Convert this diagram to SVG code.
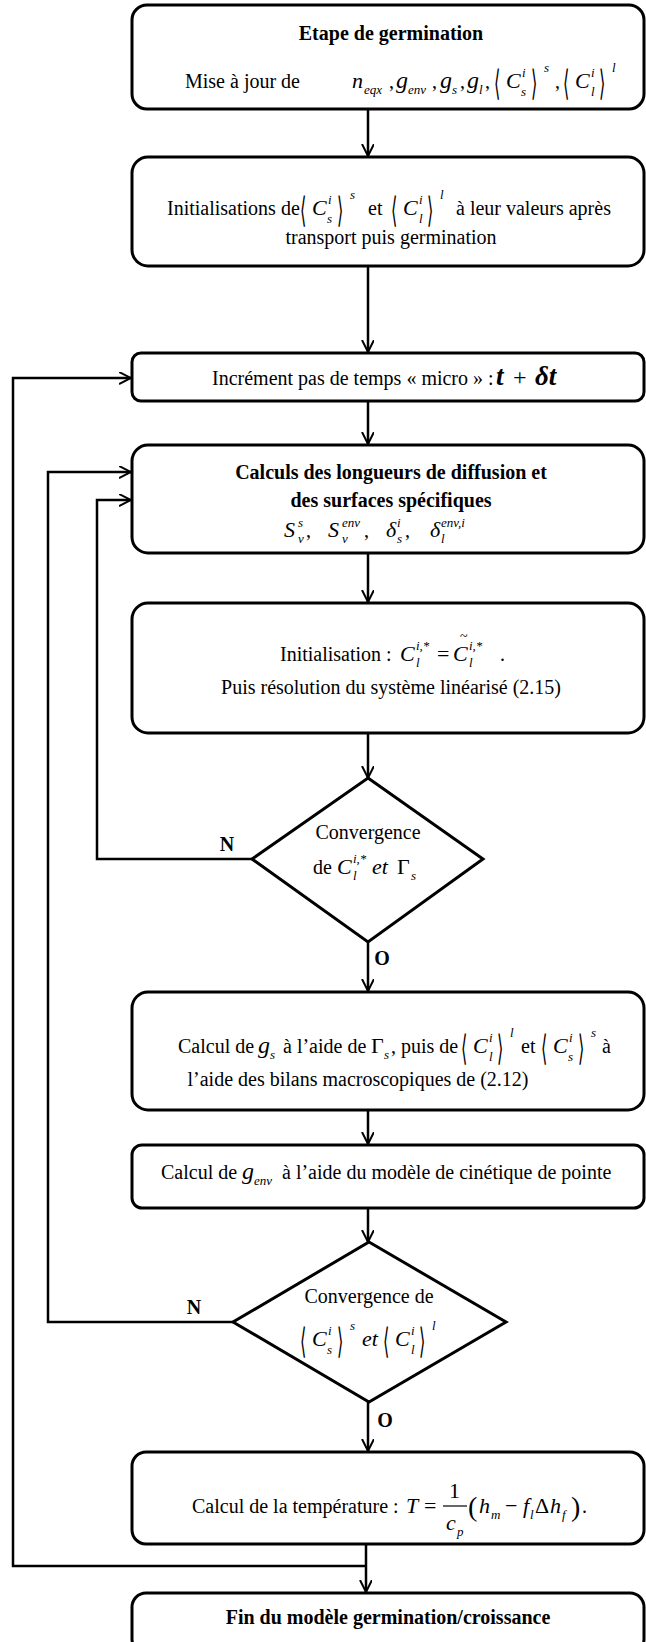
<svg xmlns="http://www.w3.org/2000/svg" width="646" height="1642" viewBox="0 0 646 1642">
<style>
.box{fill:#fff;stroke:#000;stroke-width:3}
.c{fill:none;stroke:#000;stroke-width:2.5}
.t{font-family:"Liberation Serif",serif;font-size:20px;fill:#000}
.b{font-weight:bold}
.m{font-style:italic;font-size:22px}
.g{font-style:italic;font-size:24px}
.s{font-style:italic;font-size:13px}
.br{font-family:"DejaVu Serif",serif;font-size:27px;fill:#000}
.u{font-style:normal;font-size:22px}
</style>
<defs>
<marker id="ah" markerWidth="14" markerHeight="14" refX="12" refY="6" orient="auto" markerUnits="userSpaceOnUse">
<path d="M0,0 L12,6 L0,12" fill="none" stroke="#000" stroke-width="2"/>
</marker>
</defs>
<rect width="646" height="1642" fill="#fff"/>

<g id="connectors">
<line class="c" x1="368" y1="109" x2="368" y2="156" marker-end="url(#ah)"/>
<line class="c" x1="368" y1="266" x2="368" y2="352" marker-end="url(#ah)"/>
<line class="c" x1="368" y1="401" x2="368" y2="444" marker-end="url(#ah)"/>
<line class="c" x1="368" y1="553" x2="368" y2="602" marker-end="url(#ah)"/>
<line class="c" x1="368" y1="733" x2="368" y2="778" marker-end="url(#ah)"/>
<line class="c" x1="368" y1="942" x2="368" y2="991" marker-end="url(#ah)"/>
<line class="c" x1="368" y1="1110" x2="368" y2="1144" marker-end="url(#ah)"/>
<line class="c" x1="368" y1="1208" x2="368" y2="1242" marker-end="url(#ah)"/>
<line class="c" x1="368" y1="1402" x2="368" y2="1451" marker-end="url(#ah)"/>
<line class="c" x1="366" y1="1544" x2="366" y2="1592" marker-end="url(#ah)"/>
<polyline class="c" points="366,1566 13,1566 13,378 131,378" marker-end="url(#ah)"/>
<polyline class="c" points="233,1322 48,1322 48,472 131,472" marker-end="url(#ah)"/>
<polyline class="c" points="252,859 97,859 97,500 131,500" marker-end="url(#ah)"/>
<text class="t b" x="227" y="851" text-anchor="middle">N</text>
<text class="t b" x="382" y="965" text-anchor="middle">O</text>
<text class="t b" x="194" y="1314" text-anchor="middle">N</text>
<text class="t b" x="385" y="1427" text-anchor="middle">O</text>
</g>

<g id="n1">
<rect class="box" x="132" y="5" width="512" height="104" rx="15"/>
<text class="t b" x="391" y="40" text-anchor="middle">Etape de germination</text>
<text class="t" x="185" y="88">Mise à jour de</text>
<text class="t" y="88">
<tspan class="m" x="352">n</tspan><tspan class="s" x="364" y="94">eqx</tspan>
<tspan x="389" y="88">,</tspan>
<tspan class="g" x="396">g</tspan><tspan class="s" x="408" y="94">env</tspan>
<tspan x="432" y="88">,</tspan>
<tspan class="g" x="440">g</tspan><tspan class="s" x="452" y="94">s</tspan>
<tspan x="460" y="88">,</tspan>
<tspan class="g" x="467">g</tspan><tspan class="s" x="479" y="94">l</tspan>
<tspan x="485" y="88">,</tspan>
</text>
<text class="br" transform="translate(494,95) scale(0.6,1.3)">⟨</text>
<text class="t" y="88"><tspan class="m" x="506">C</tspan><tspan class="s" x="522" y="77">i</tspan><tspan class="s" x="521" y="96">s</tspan></text>
<text class="br" transform="translate(531,95) scale(0.6,1.3)">⟩</text>
<text class="t" y="88"><tspan class="s" x="544" y="72">s</tspan><tspan x="555" y="88">,</tspan></text>
<text class="br" transform="translate(563,95) scale(0.6,1.3)">⟨</text>
<text class="t" y="88"><tspan class="m" x="575">C</tspan><tspan class="s" x="591" y="77">i</tspan><tspan class="s" x="591" y="96">l</tspan></text>
<text class="br" transform="translate(599,95) scale(0.6,1.3)">⟩</text>
<text class="t" y="72"><tspan class="s" x="612">l</tspan></text>
</g>

<g id="n2">
<rect class="box" x="132" y="157" width="512" height="109" rx="16"/>
<text class="t" x="167" y="215">Initialisations de</text>
<text class="br" transform="translate(300,222) scale(0.6,1.3)">⟨</text>
<text class="t" y="215"><tspan class="m" x="312">C</tspan><tspan class="s" x="328" y="204">i</tspan><tspan class="s" x="327" y="223">s</tspan></text>
<text class="br" transform="translate(337,222) scale(0.6,1.3)">⟩</text>
<text class="t" y="199"><tspan class="s" x="350">s</tspan></text>
<text class="t" x="368" y="215">et</text>
<text class="br" transform="translate(391,222) scale(0.6,1.3)">⟨</text>
<text class="t" y="215"><tspan class="m" x="403">C</tspan><tspan class="s" x="419" y="204">i</tspan><tspan class="s" x="419" y="223">l</tspan></text>
<text class="br" transform="translate(427,222) scale(0.6,1.3)">⟩</text>
<text class="t" y="199"><tspan class="s" x="440">l</tspan></text>
<text class="t" x="456" y="215">à leur valeurs après</text>
<text class="t" x="391" y="244" text-anchor="middle">transport puis germination</text>
</g>

<g id="n3">
<rect class="box" x="132" y="353" width="512" height="48" rx="9"/>
<text class="t" x="212" y="385">Incrément pas de temps « micro » :</text>
<text class="t" y="385">
<tspan x="496" style="font-style:italic;font-weight:bold;font-size:27px">t</tspan>
<tspan x="513" style="font-size:24px">+</tspan>
<tspan x="535" style="font-style:italic;font-weight:bold;font-size:27px">δt</tspan>
</text>
</g>

<g id="n4">
<rect class="box" x="132" y="445" width="512" height="108" rx="16"/>
<text class="t b" x="391" y="479" text-anchor="middle">Calculs des longueurs de diffusion et</text>
<text class="t b" x="391" y="507" text-anchor="middle">des surfaces spécifiques</text>
<text class="t" y="537">
<tspan class="m" x="284">S</tspan><tspan class="s" x="298" y="527">s</tspan><tspan class="s" x="298" y="543">v</tspan><tspan x="306" y="537">,</tspan>
<tspan class="m" x="328">S</tspan><tspan class="s" x="342" y="527">env</tspan><tspan class="s" x="342" y="543">v</tspan><tspan x="364" y="537">,</tspan>
<tspan class="m" x="386">δ</tspan><tspan class="s" x="397" y="527">i</tspan><tspan class="s" x="397" y="543">s</tspan><tspan x="405" y="537">,</tspan>
<tspan class="m" x="430">δ</tspan><tspan class="s" x="441" y="527">env,i</tspan><tspan class="s" x="441" y="543">l</tspan>
</text>
</g>

<g id="n5">
<rect class="box" x="132" y="603" width="512" height="130" rx="16"/>
<text class="t" x="280" y="661">Initialisation :</text>
<text class="t" y="661">
<tspan class="m" x="400">C</tspan><tspan class="s" x="416" y="650">i,*</tspan><tspan class="s" x="416" y="667">l</tspan>
<tspan class="u" x="437" y="661">=</tspan>
<tspan class="m" x="453">C</tspan><tspan class="s" x="469" y="650">i,*</tspan><tspan class="s" x="469" y="667">l</tspan>
<tspan x="500" y="661">.</tspan>
</text>
<text class="t" x="460" y="641" style="font-size:14px">~</text>
<text class="t" x="391" y="694" text-anchor="middle">Puis résolution du système linéarisé (2.15)</text>
</g>

<g id="d1">
<polygon class="box" points="368,778 483,859 368,942 252,859"/>
<text class="t" x="368" y="839" text-anchor="middle">Convergence</text>
<text class="t" y="874">
<tspan x="313">de</tspan>
<tspan class="m" x="337">C</tspan><tspan class="s" x="353" y="863">i,*</tspan><tspan class="s" x="353" y="880">l</tspan>
<tspan class="m" x="372" y="874">et</tspan>
<tspan class="u" x="397">Γ</tspan><tspan class="s" x="411" y="880">s</tspan>
</text>
</g>

<g id="n6">
<rect class="box" x="132" y="992" width="512" height="118" rx="16"/>
<text class="t" x="178" y="1053">Calcul de</text>
<text class="t" y="1053">
<tspan class="g" x="258">g</tspan><tspan class="s" x="270" y="1059">s</tspan>
<tspan x="283" y="1053">à l’aide de</tspan>
<tspan class="u" x="371">Γ</tspan><tspan class="s" x="384" y="1059">s</tspan>
<tspan x="391" y="1053">, puis de</tspan>
</text>
<text class="br" transform="translate(461,1060) scale(0.6,1.3)">⟨</text>
<text class="t" y="1053"><tspan class="m" x="473">C</tspan><tspan class="s" x="489" y="1042">i</tspan><tspan class="s" x="489" y="1061">l</tspan></text>
<text class="br" transform="translate(497,1060) scale(0.6,1.3)">⟩</text>
<text class="t" y="1037"><tspan class="s" x="510">l</tspan></text>
<text class="t" x="521" y="1053">et</text>
<text class="br" transform="translate(541,1060) scale(0.6,1.3)">⟨</text>
<text class="t" y="1053"><tspan class="m" x="553">C</tspan><tspan class="s" x="569" y="1042">i</tspan><tspan class="s" x="568" y="1061">s</tspan></text>
<text class="br" transform="translate(578,1060) scale(0.6,1.3)">⟩</text>
<text class="t" y="1037"><tspan class="s" x="591">s</tspan></text>
<text class="t" x="602" y="1053">à</text>
<text class="t" x="358" y="1086" text-anchor="middle">l’aide des bilans macroscopiques de (2.12)</text>
</g>

<g id="n7">
<rect class="box" x="132" y="1145" width="512" height="63" rx="10"/>
<text class="t" x="161" y="1179">Calcul de</text>
<text class="t" y="1179"><tspan class="g" x="242">g</tspan><tspan class="s" x="254" y="1185">env</tspan></text>
<text class="t" x="282" y="1179">à l’aide du modèle de cinétique de pointe</text>
</g>

<g id="d2">
<polygon class="box" points="369,1242 506,1322 369,1402 233,1322"/>
<text class="t" x="369" y="1303" text-anchor="middle">Convergence de</text>
<text class="br" transform="translate(300,1353) scale(0.6,1.3)">⟨</text>
<text class="t" y="1346"><tspan class="m" x="312">C</tspan><tspan class="s" x="328" y="1335">i</tspan><tspan class="s" x="327" y="1354">s</tspan></text>
<text class="br" transform="translate(337,1353) scale(0.6,1.3)">⟩</text>
<text class="t" y="1330"><tspan class="s" x="350">s</tspan></text>
<text class="t m" x="362" y="1346">et</text>
<text class="br" transform="translate(383,1353) scale(0.6,1.3)">⟨</text>
<text class="t" y="1346"><tspan class="m" x="395">C</tspan><tspan class="s" x="411" y="1335">i</tspan><tspan class="s" x="411" y="1354">l</tspan></text>
<text class="br" transform="translate(419,1353) scale(0.6,1.3)">⟩</text>
<text class="t" y="1330"><tspan class="s" x="432">l</tspan></text>
</g>

<g id="n8">
<rect class="box" x="132" y="1452" width="512" height="92" rx="14"/>
<text class="t" x="192" y="1513">Calcul de la température :</text>
<line x1="443" y1="1506" x2="467" y2="1506" stroke="#000" stroke-width="1.2"/>
<text class="t" y="1513">
<tspan class="m" x="406">T</tspan>
<tspan class="u" x="424">=</tspan>
<tspan class="u" x="449" y="1498">1</tspan>
<tspan class="m" x="446" y="1530">c</tspan><tspan class="s" x="457" y="1536">p</tspan>
<tspan style="font-size:28px" x="468" y="1516">(</tspan>
<tspan class="m" x="479" y="1513">h</tspan><tspan class="s" x="491" y="1519">m</tspan>
<tspan class="u" x="505" y="1513">−</tspan>
<tspan class="m" x="523">f</tspan><tspan class="s" x="530" y="1519">l</tspan>
<tspan class="u" x="535" y="1513">Δ</tspan>
<tspan class="m" x="550">h</tspan><tspan class="s" x="562" y="1519">f</tspan>
<tspan style="font-size:28px" x="571" y="1516">)</tspan>
<tspan x="582" y="1513">.</tspan>
</text>
</g>

<g id="n9">
<rect class="box" x="132" y="1593" width="512" height="60" rx="14"/>
<text class="t b" x="388" y="1624" text-anchor="middle">Fin du modèle germination/croissance</text>
</g>
</svg>
